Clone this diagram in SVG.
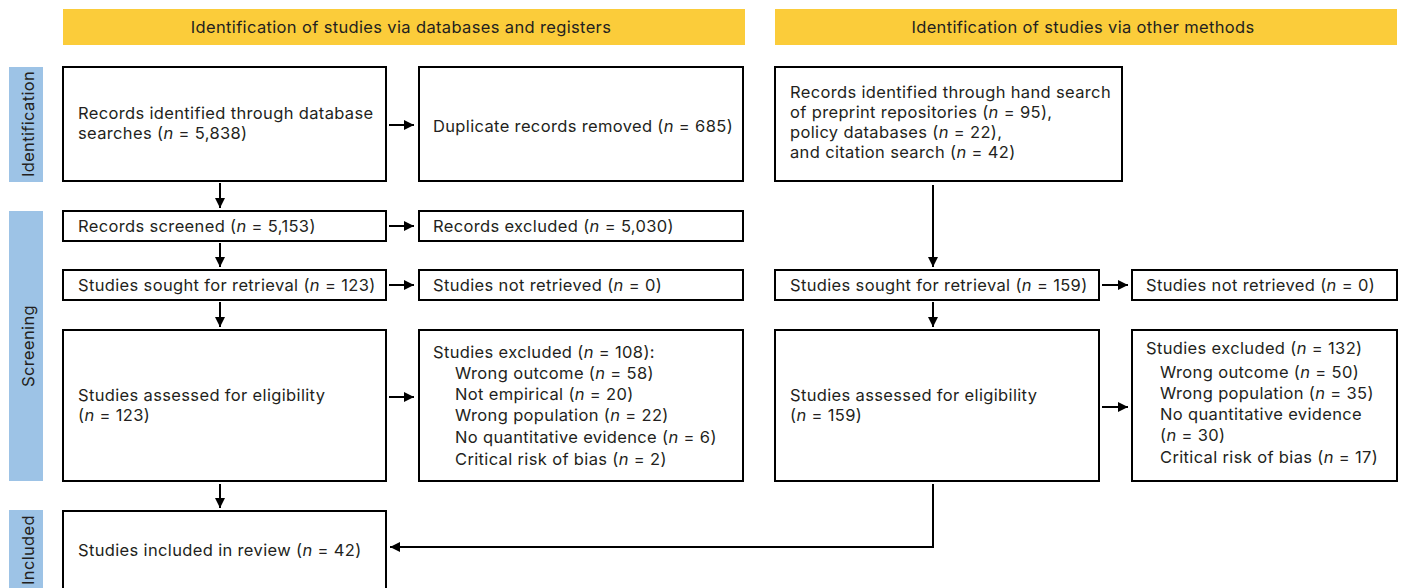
<svg xmlns="http://www.w3.org/2000/svg" width="1401" height="588" viewBox="0 0 1401 588">
<style>
text{font-family:Inter,"Noto Sans","Liberation Sans",sans-serif;font-size:16.5px;letter-spacing:0.35px;fill:#231f20}
.box{fill:#fff;stroke:#000;stroke-width:2}
.ban{fill:#fbcc3a}
.side{fill:#9dc3e6}
.c{fill:none;stroke:#000;stroke-width:2}
.mid{text-anchor:middle}
.i{font-style:italic}
</style>
<defs>
<marker id="ah" viewBox="0 0 10 10" refX="10" refY="5" markerWidth="5" markerHeight="5" orient="auto" markerUnits="strokeWidth">
<path d="M0,0 L10,5 L0,10 z" fill="#000"/>
</marker>
</defs>
<rect width="1401" height="588" fill="#fff"/>
<g id="banner-left"><rect class="ban" x="63" y="9" width="682" height="36"/><text class="mid" x="401" y="33">Identification of studies via databases and registers</text></g>
<g id="banner-right"><rect class="ban" x="775" y="9" width="622" height="36"/><text class="mid" x="1083" y="33">Identification of studies via other methods</text></g>
<g id="side-identification"><rect class="side" x="9" y="67" width="34" height="115"/><text class="mid" transform="translate(34,124) rotate(-90)">Identification</text></g>
<g id="side-screening"><rect class="side" x="9" y="211" width="34" height="270"/><text class="mid" transform="translate(34,346) rotate(-90)">Screening</text></g>
<g id="side-included"><rect class="side" x="9" y="510" width="34" height="80"/><text class="mid" transform="translate(34,550) rotate(-90)">Included</text></g>

<g id="n1"><rect class="box" x="63" y="67" width="323" height="114"/><text x="78" y="119">Records identified through database</text><text x="78" y="139">searches (<tspan class="i">n</tspan> = 5,838)</text></g>
<g id="n2"><rect class="box" x="419" y="67" width="324" height="114"/><text x="433" y="132">Duplicate records removed (<tspan class="i">n</tspan> = 685)</text></g>
<g id="n3"><rect class="box" x="63" y="211" width="323" height="30"/><text x="78" y="232">Records screened (<tspan class="i">n</tspan> = 5,153)</text></g>
<g id="n4"><rect class="box" x="419" y="211" width="324" height="30"/><text x="433" y="232">Records excluded (<tspan class="i">n</tspan> = 5,030)</text></g>
<g id="n5"><rect class="box" x="63" y="270" width="323" height="30"/><text x="78" y="291">Studies sought for retrieval (<tspan class="i">n</tspan> = 123)</text></g>
<g id="n6"><rect class="box" x="419" y="270" width="324" height="30"/><text x="433" y="291">Studies not retrieved (<tspan class="i">n</tspan> = 0)</text></g>
<g id="n7"><rect class="box" x="63" y="330" width="323" height="151"/><text x="78" y="401">Studies assessed for eligibility</text><text x="78" y="421">(<tspan class="i">n</tspan> = 123)</text></g>
<g id="n8"><rect class="box" x="419" y="330" width="324" height="151"/>
<text x="433" y="358">Studies excluded (<tspan class="i">n</tspan> = 108):</text>
<text x="455" y="379">Wrong outcome (<tspan class="i">n</tspan> = 58)</text>
<text x="455" y="400">Not empirical (<tspan class="i">n</tspan> = 20)</text>
<text x="455" y="421">Wrong population (<tspan class="i">n</tspan> = 22)</text>
<text x="455" y="443">No quantitative evidence (<tspan class="i">n</tspan> = 6)</text>
<text x="455" y="465">Critical risk of bias (<tspan class="i">n</tspan> = 2)</text></g>
<g id="n9"><rect class="box" x="63" y="511" width="323" height="90"/><text x="78" y="556">Studies included in review (<tspan class="i">n</tspan> = 42)</text></g>

<g id="r1"><rect class="box" x="775" y="67" width="347" height="114"/>
<text x="790" y="98">Records identified through hand search</text>
<text x="790" y="118">of preprint repositories (<tspan class="i">n</tspan> = 95),</text>
<text x="790" y="138">policy databases (<tspan class="i">n</tspan> = 22),</text>
<text x="790" y="158">and citation search (<tspan class="i">n</tspan> = 42)</text></g>
<g id="r2"><rect class="box" x="775" y="270" width="324" height="30"/><text x="790" y="291">Studies sought for retrieval (<tspan class="i">n</tspan> = 159)</text></g>
<g id="r3"><rect class="box" x="1132" y="270" width="265" height="30"/><text x="1146" y="291">Studies not retrieved (<tspan class="i">n</tspan> = 0)</text></g>
<g id="r4"><rect class="box" x="775" y="330" width="324" height="151"/><text x="790" y="401">Studies assessed for eligibility</text><text x="790" y="421">(<tspan class="i">n</tspan> = 159)</text></g>
<g id="r5"><rect class="box" x="1132" y="330" width="265" height="151"/>
<text x="1146" y="354">Studies excluded (<tspan class="i">n</tspan> = 132)</text>
<text x="1160" y="378">Wrong outcome (<tspan class="i">n</tspan> = 50)</text>
<text x="1160" y="399">Wrong population (<tspan class="i">n</tspan> = 35)</text>
<text x="1160" y="420">No quantitative evidence</text>
<text x="1160" y="441">(<tspan class="i">n</tspan> = 30)</text>
<text x="1160" y="463">Critical risk of bias (<tspan class="i">n</tspan> = 17)</text></g>

<g id="connectors">
<line class="c" x1="220" y1="183" x2="220" y2="208" marker-end="url(#ah)"/>
<line class="c" x1="220" y1="243" x2="220" y2="267" marker-end="url(#ah)"/>
<line class="c" x1="220" y1="302" x2="220" y2="327" marker-end="url(#ah)"/>
<line class="c" x1="220" y1="484" x2="220" y2="508" marker-end="url(#ah)"/>
<line class="c" x1="389" y1="125" x2="414" y2="125" marker-end="url(#ah)"/>
<line class="c" x1="389" y1="226" x2="414" y2="226" marker-end="url(#ah)"/>
<line class="c" x1="389" y1="285" x2="414" y2="285" marker-end="url(#ah)"/>
<line class="c" x1="389" y1="397" x2="414" y2="397" marker-end="url(#ah)"/>
<line class="c" x1="933" y1="185" x2="933" y2="267" marker-end="url(#ah)"/>
<line class="c" x1="933" y1="302" x2="933" y2="327" marker-end="url(#ah)"/>
<line class="c" x1="1102" y1="285" x2="1128" y2="285" marker-end="url(#ah)"/>
<line class="c" x1="1102" y1="407" x2="1128" y2="407" marker-end="url(#ah)"/>
<polyline class="c" points="933,484 933,547 390,547" marker-end="url(#ah)"/>
</g>
</svg>
